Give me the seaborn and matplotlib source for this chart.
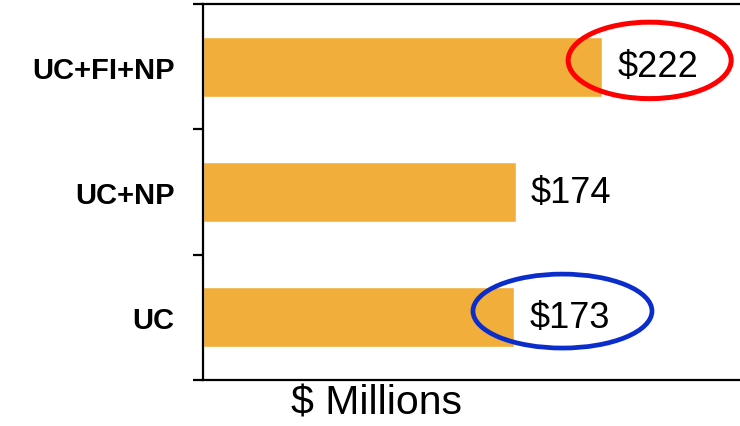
import matplotlib
matplotlib.use("Agg")
import matplotlib.pyplot as plt
from matplotlib.patches import Ellipse
from matplotlib.transforms import ScaledTranslation
import seaborn as sns
import pandas as pd

# Scenario totals ($ millions)
scenarios = ["UC+FI+NP", "UC+NP", "UC"]
values = [222, 174, 173]
value_labels = ["$222", "$174", "$173"]

BAR_COLOR = "#F2AE3A"

sns.set_theme(style="white")
plt.rcParams["font.family"] = ["Liberation Sans", "DejaVu Sans"]
plt.rcParams["text.color"] = "black"
plt.rcParams["axes.labelcolor"] = "black"
plt.rcParams["ytick.color"] = "black"
plt.rcParams["xtick.color"] = "black"

df = pd.DataFrame({"scenario": scenarios, "value": values})

fig = plt.figure(figsize=(7.40, 4.27), dpi=100)
ax = fig.add_axes([0.2743, 0.1077, 0.7287, 0.8806])

sns.barplot(data=df, x="value", y="scenario", orient="h", color=BAR_COLOR,
            saturation=1, width=0.48, ax=ax, errorbar=None)

ax.set_xlim(0, 300)
ax.set_ylim(2.5, -0.5)

# value labels at bar ends, nudged slightly below the bar centre line
texts = ax.bar_label(ax.containers[0], labels=value_labels, padding=11,
                     fontsize=26, color="black")
for t in texts:
    t.set_transform(t.get_transform() + ScaledTranslation(0, -2 / 100, fig.dpi_scale_trans))

# spines: left, bottom and top
for side in ["left", "bottom", "top"]:
    ax.spines[side].set_visible(True)
    ax.spines[side].set_color("black")
    ax.spines[side].set_linewidth(1.6)
ax.spines["right"].set_visible(False)

# ticks between categories, category names as unticked minor labels
ax.set_xticks([])
ax.tick_params(axis="y", which="major", direction="out", length=7.2,
               width=1.6, color="black", left=True, labelleft=False)
ax.tick_params(axis="y", which="minor", length=0, pad=20.5, left=True,
               labelleft=True, labelsize=21, labelcolor="black")
ax.set_yticks([-0.5, 0.5, 1.5, 2.5])
ax.set_yticks(range(len(scenarios)), minor=True)
ax.set_yticklabels(scenarios, minor=True, fontsize=21, fontweight="bold",
                   color="black")

ax.set_ylabel("")
ax.set_xlabel("$ Millions", fontsize=29.5, color="black")
ax.xaxis.set_label_coords(0.321, -0.010, transform=ax.transAxes)
ax.xaxis.label.set_verticalalignment("top")

# highlight circles around the first and last totals
ax.add_patch(Ellipse((values[0] + 26.5, -0.05), 90.7, 0.61, fill=False,
                     edgecolor="#FF0000", linewidth=3.6, zorder=5, clip_on=False))
ax.add_patch(Ellipse((values[2] + 27, 1.95), 99.6, 0.59, fill=False,
                     edgecolor="#0A2DCC", linewidth=3.4, zorder=5, clip_on=False))

fig.savefig("out.png", dpi=100)
